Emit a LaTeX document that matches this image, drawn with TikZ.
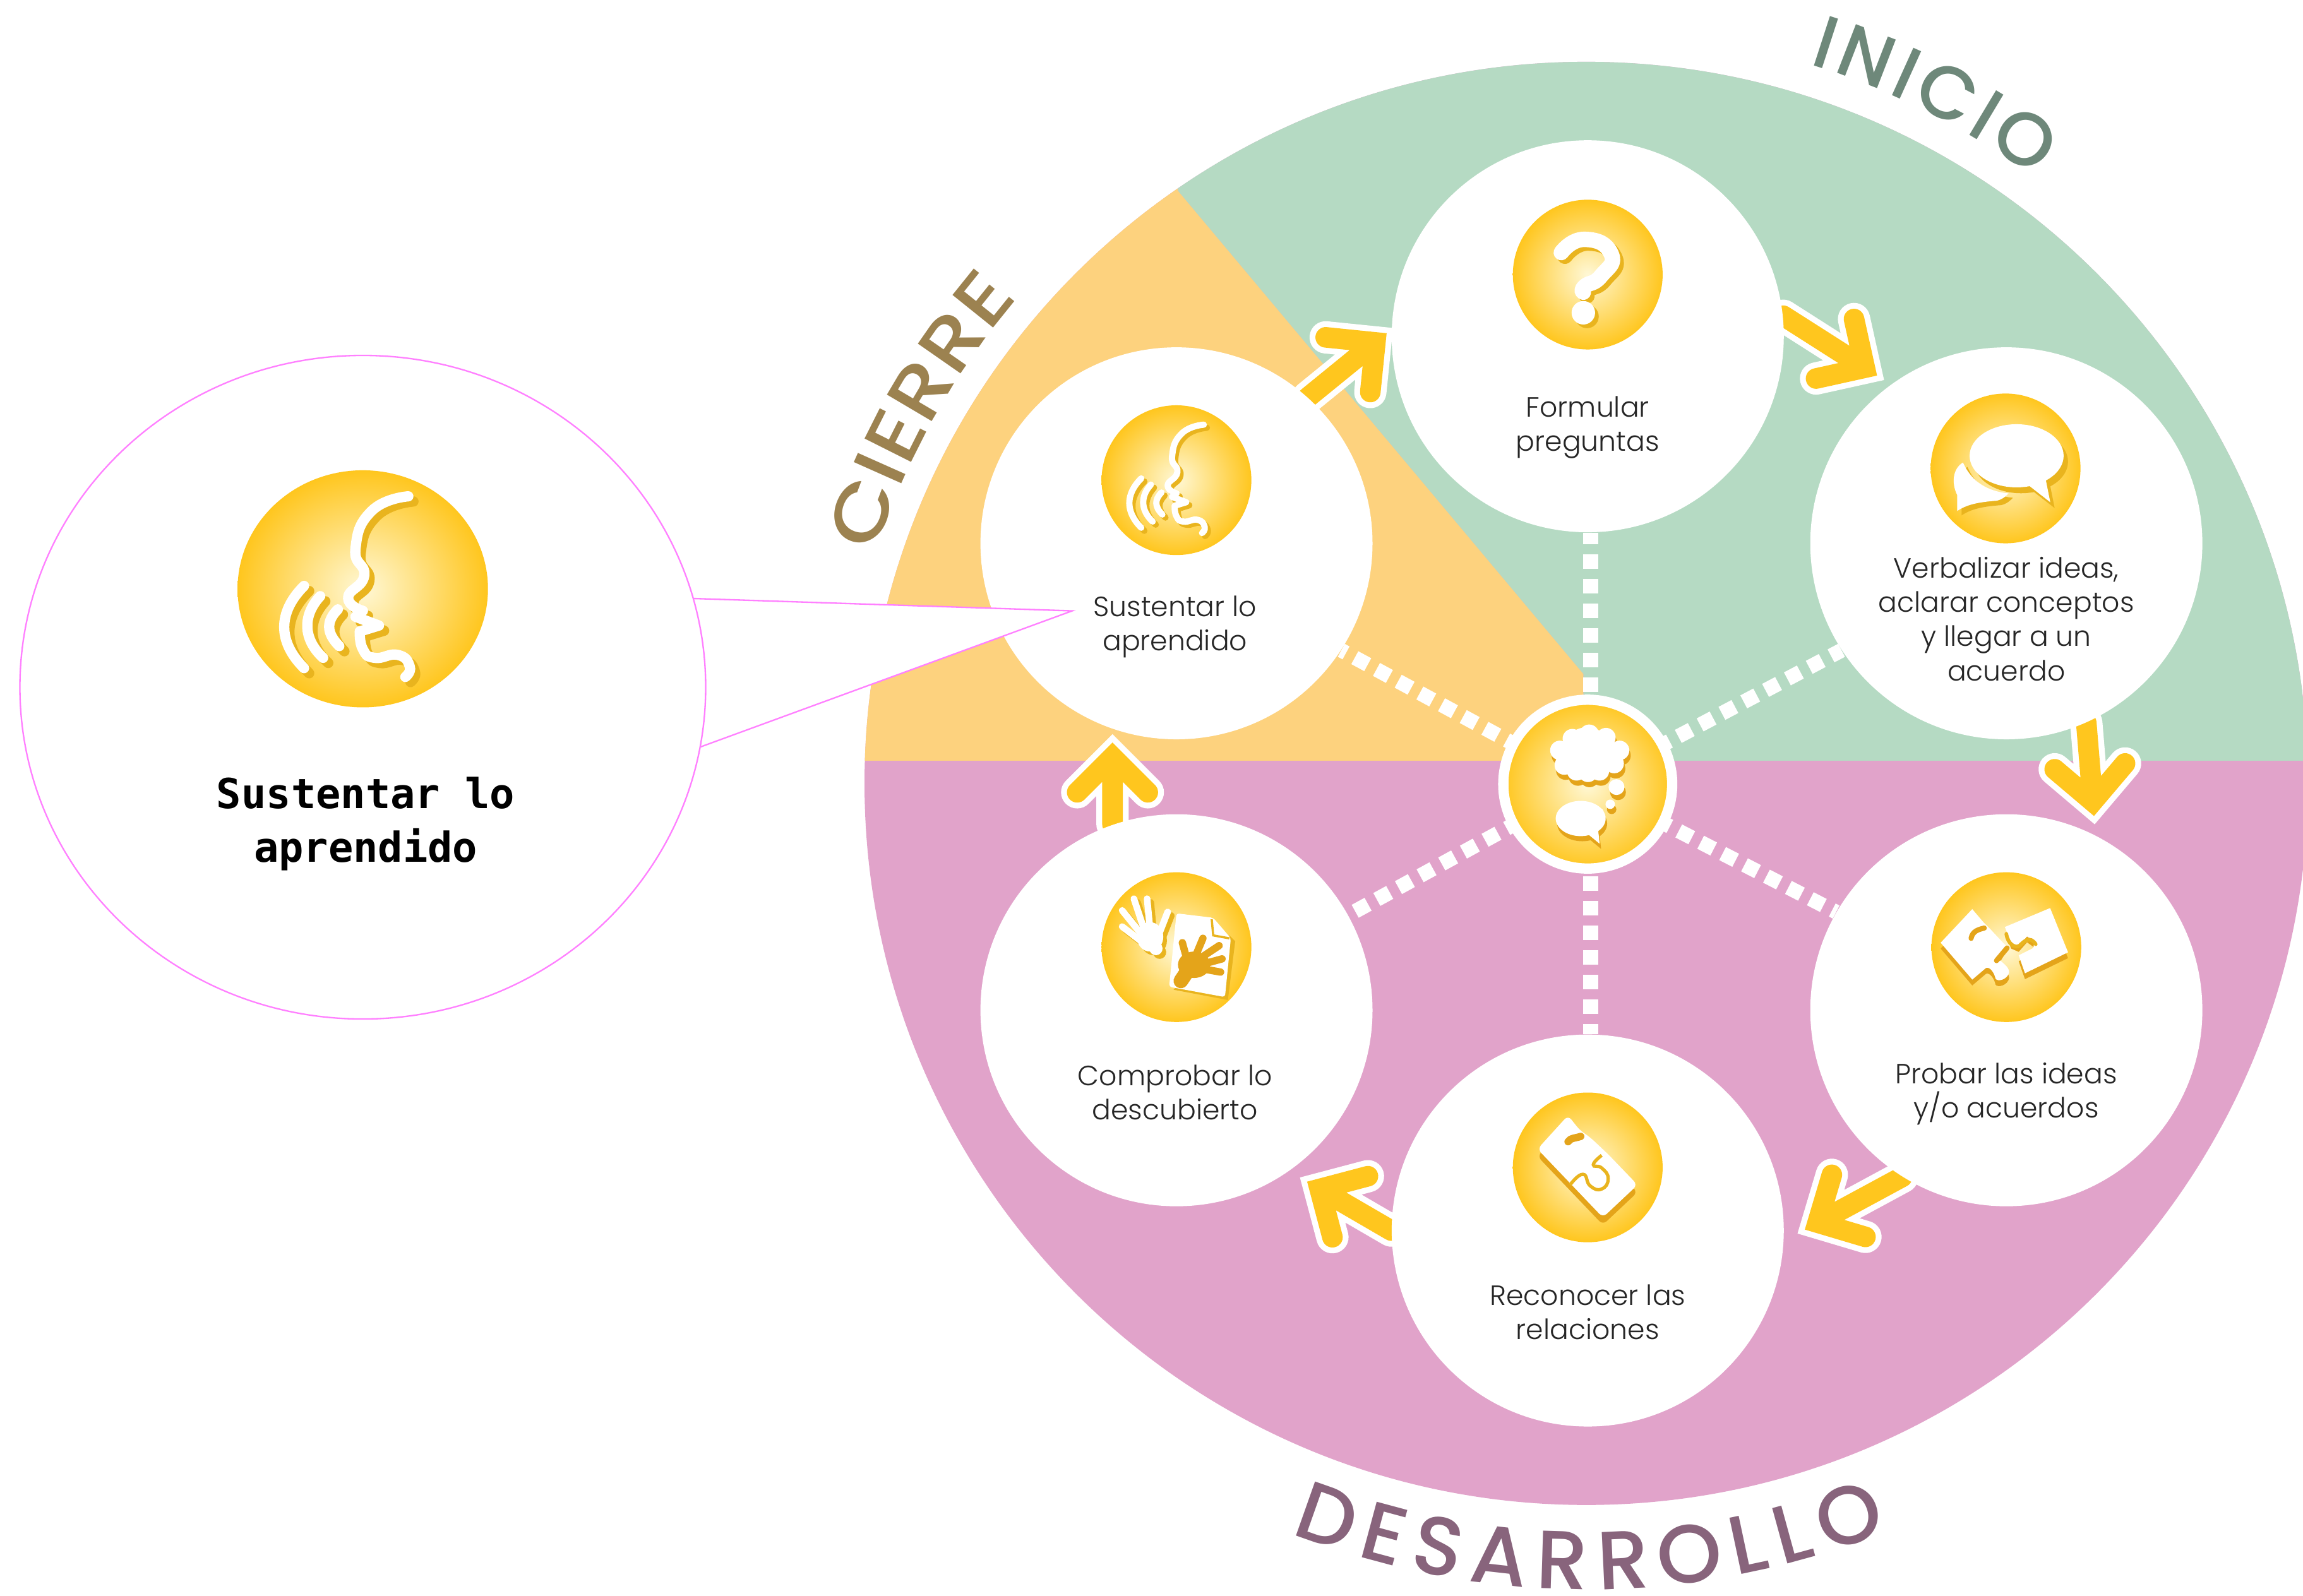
\documentclass[tikz,border=0pt]{standalone}
\usepackage{fontspec}
\setmainfont{Poppins Light}
\newfontfamily\titulos{Poppins Medium}
\newfontfamily\tituloancho{Poppins Medium}[FakeStretch=1.18]
\newfontfamily\pixelada{DejaVu Sans Mono}[BoldFont={* Bold}]
\usepackage{xcolor}
\usepackage{tikz}
\usetikzlibrary{shapes, shapes.geometric, arrows.meta, positioning, calc, decorations.text}

\pgfdeclarelayer{fondo}
\pgfdeclarelayer{lineas}
\pgfdeclarelayer{cuna}
\pgfdeclarelayer{globo}
\pgfsetlayers{fondo,lineas,main,cuna,globo}

\definecolor{verde}{HTML}{B5DAC3}
\definecolor{naranja}{HTML}{FDD27E}
\definecolor{rosa}{HTML}{E1A3CA}
\definecolor{amarillo}{HTML}{FFC61E}
\definecolor{centroclaro}{HTML}{FFF8D6}
\definecolor{sombra}{HTML}{E9B41E}
\definecolor{oro}{HTML}{E4A41A}
\definecolor{magenta}{HTML}{FF80FF}
\definecolor{tinta}{HTML}{262626}
\definecolor{tituloverde}{HTML}{6E887A}
\definecolor{titulocafe}{HTML}{9C8250}
\definecolor{titulorosa}{HTML}{88647C}

\tikzset{
  pics/cara/.style={code={
    \foreach \col/\s in {sombra/3.5, white/0} {
      \begin{scope}[shift={(\s,\s)}, color=\col, line width=#1, line cap=round, line join=round]
        \draw plot[smooth, tension=.9] coordinates {(31,-63) (6,-53) (-5,-27) (1,-9) (-10,6) (0,15)};
        \draw (0,15) -- (-5,19) -- (11,25) -- (-2,29);
        \draw plot[smooth, tension=.9] coordinates {(-2,29) (0,41) (8,47) (24,45) (32,53) (29,60)};
        \draw (-40,-2) .. controls (-58,16) and (-58,36) .. (-40,54);
        \draw (-29,5) .. controls (-41,18) and (-41,34) .. (-27,47);
        \draw (-17,14) .. controls (-25,22) and (-25,30) .. (-16,39);
      \end{scope}
    }
  }},
  pics/pregunta/.style={code={
    \foreach \col/\s in {sombra/2.5, white/0} {
      \begin{scope}[shift={(\s,\s)}, color=\col, line width=2.1mm, line cap=round, line join=round]
        \draw plot[smooth, tension=1] coordinates {(-18,-15) (-2,-24) (16,-14) (9,1) (-2,8) (-3,12)};
        \fill (-3,26) circle [radius=8];
      \end{scope}
    }
  }},
  pics/dialogo/.style={code={
    \foreach \col/\s in {sombra/3, white/0} {
      \begin{scope}[shift={(\s,\s)}, color=\col]
        \fill (-29,-4) .. controls (-36,0) and (-37,10) .. (-33,18) -- (-33,29)
          .. controls (-27,25) and (-20,23) .. (-6,22) .. controls (-2,21) and (0,19) .. (2,17)
          .. controls (-8,16) and (-22,12) .. (-29,-4) -- cycle;
      \end{scope}
    }
    \foreach \col/\s/\t in {sombra/3/4, white/0/0} {
      \begin{scope}[shift={(\s,\t)}, color=\col]
        \fill (7.5,-8.6) ellipse [x radius=32, y radius=21.5];
        \fill (27,6) -- (30.4,23) -- (15,11) -- cycle;
      \end{scope}
    }
  }},
  pics/pensar/.style={code={
    \foreach \col/\s/\t in {oro/1/3.5, white/0/0} {
      \begin{scope}[shift={(\s,\t)}, color=\col]
        \fill (-.5,-21.7) circle [radius=17];
        \foreach \x/\y in {-10.5/-31, 1/-34, 12.4/-31.7, 21.7/-23, -19/-23, -16/-13, -7.6/-9, .2/-8, 8/-9, 18/-14}
          \fill (\x,\y) circle [radius=6.6];
        \fill (19.6,2) circle [radius=5.4];
        \fill (15.3,13.7) circle [radius=3.2];
        \fill (8.8,18.4) circle [radius=1.9];
        \fill (-4.8,23.4) ellipse [x radius=17, y radius=12];
        \fill (-.5,33.5) -- (8.1,40.6) -- (6.7,27.7) -- cycle;
      \end{scope}
    }
  }},
  pics/piezas/.style={code={
    \foreach \col/\t in {oro/4, white/0} {
      \begin{scope}[shift={(0,\t)}, color=\col]
        \fill (-44.7,-3) -- (-23.2,-25.9) -- (-15.3,-16.6) -- (-10.3,-11.6) -- (-.2,-.8) -- (-5.3,7.8)
          .. controls (-4,10) and (2,13) .. (1.9,17.1) .. controls (1,22) and (-6,24) .. (-7.4,21.4)
          .. controls (-8,18) and (-11,13) .. (-13.9,14.2) -- (-23.2,22.1) -- cycle;
        \fill (-1,-13.7) -- (29.8,-26.6) -- (42,3.5) -- (12.7,17.8) -- (8.4,5.6) -- (18.4,.6) -- (19.1,-3.7)
          -- (14.1,-7.3) -- (8.4,-.8) -- (3.3,-3) -- cycle;
      \end{scope}
    }
    \begin{scope}[oro, line cap=round, line width=.07cm]
      \draw (-24,-6) .. controls (-23,-11) and (-19,-12) .. (-15,-13);
      \draw (-6.7,9.2) -- (.5,.6);
      \draw[sombra, line width=.05cm] (0,-9) .. controls (1,-2) and (6,1) .. (9,-1) .. controls (12,-4) and (16,-8) .. (20,-2);
    \end{scope}
  }},
  pics/pieza/.style={code={
    \foreach \col/\t in {oro/5, white/0} {
      \begin{scope}[shift={(0,\t)}, color=\col]
        \fill[rounded corners=2pt] (-34.2,-12.5) -- (-13.4,-35.4) -- (-5.5,-25.4) -- (1.7,-20.4) -- (13.9,-8.9)
          -- (33.9,11.9) -- (10.3,34.1) -- cycle;
      \end{scope}
    }
    \draw[oro, line width=.1cm, line cap=round] (-13.4,-17.5) .. controls (-12,-20) and (-8,-20) .. (-4.8,-21.1);
    \draw[sombra, line width=.045cm] plot[smooth, tension=.9] coordinates
      {(-12,11.9) (-3.3,4.7) (1.7,12.6) (9.5,14.7) (13.9,7.6) (9.5,.4) (3.8,-1.8) (9.5,-8.2)};
  }},
  pics/manos/.style={code={
    \foreach \col/\s in {sombra/2.5, white/0} {
      \begin{scope}[shift={(\s,\s)}, color=\col, line width=.09cm, line cap=round]
        \fill (-18,-7) ellipse [x radius=9, y radius=10];
        \draw (-13,-6) -- (-6,-24);
        \draw (-18,-12) -- (-20,-33);
        \draw (-22,-12) -- (-29,-33);
        \draw (-24,-9) -- (-37,-25);
        \draw (-24,-4) -- (-37,-14);
        \draw[line width=.18cm] (-16,-3) -- (-14,1);
      \end{scope}
    }
    \fill[sombra] (-2,29) -- (35,36) -- (40,-4) -- (36,-8) -- cycle;
    \fill[white, rounded corners=1pt] (0,-23) -- (25,-20) -- (37,-6) -- (33,34) -- (-5,27) -- cycle;
    \draw[sombra, line width=.03cm] (24,-19) -- (25,-8) -- (36,-6);
    \begin{scope}[oro, line width=.1cm, line cap=round]
      \fill (12,12) ellipse [x radius=11, y radius=9];
      \draw (7,8) -- (4,-3);
      \draw (13,6) -- (18,-6);
      \draw (17,7) -- (29,-1);
      \draw (20,11) -- (31,8);
      \draw (19,15) -- (30,17);
      \draw[line width=.2cm] (7,17) -- (3,23);
    \end{scope}
  }},
  curva/.style n args={3}{decorate, decoration={text along path,
    text={|#2\color{#1}|#3}, text align={fit to path}}}
}

\begin{document}
\begin{tikzpicture}[
    x=.02cm, y=-.02cm,
    rueda/.style={circle, fill=rosa, minimum size=19.66cm, inner sep=0},
    etapa/.style={circle, fill=white, minimum size=5.34cm, inner sep=0},
    icono/.style={circle, inner sep=0, minimum size=2.04cm, inner color=centroclaro, outer color=amarillo},
    centro/.style={circle, inner sep=0, minimum size=2.3cm, draw=white, line width=.14cm, inner color=centroclaro, outer color=amarillo},
    lupa/.style={ellipse, draw=magenta, line width=.02cm, fill=white, minimum width=9.34cm, minimum height=9.04cm, inner sep=0},
    iconolupa/.style={ellipse, inner sep=0, minimum width=3.41cm, minimum height=3.23cm, inner color=centroclaro, outer color=amarillo},
    rotulo/.style={align=center, inner sep=0, text=tinta, font=\fontsize{10.8}{13.3}\selectfont},
    rotulolupa/.style={align=center, inner sep=0, font=\pixelada\bfseries\fontsize{16}{20.9}\selectfont},
    puntos/.style={draw=white, line width=.2cm, dash pattern=on .2cm off .136cm}
  ]
  \useasboundingbox (0,0) rectangle (1568,1086.5);

  % fondo
  \begin{pgfonlayer}{fondo}
    \node[rueda] (rueda) at (1080,533.5) {};
    \begin{scope}
      \clip (rueda.center) circle [radius=9.83cm];
      \fill[verde] (802,130) -- (1078,459) -- (1078,518) -- (1600,518) -- (1600,0) -- (802,0) -- cycle;
      \fill[naranja] (802,130) -- (1078,459) -- (1078,518) -- (560,518) -- (560,0) -- (802,0) -- cycle;
    \end{scope}
    \path[curva={tituloverde}{\titulos\fontsize{29}{29}\selectfont}{INICIO}] ([shift={(72.8:10.26cm)}]rueda.center) arc [start angle=72.8, end angle=53.5, radius=10.26cm];
    \path[curva={titulocafe}{\tituloancho\fontsize{29}{29}\selectfont}{CIERRE}] ([shift={(162.1:10.18cm)}]rueda.center) arc [start angle=162.1, end angle=140, radius=10.18cm];
    \path[curva={titulorosa}{\titulos\fontsize{32}{32}\selectfont}{DESARROLLO}] ([shift={(-111.5:10.98cm)}]rueda.center) arc [start angle=-111.5, end angle=-68, radius=10.98cm];
  \end{pgfonlayer}

  % circulos
  \node[etapa] (formular) at (1081,229) {};
  \node[etapa] (verbalizar) at (1366,370) {};
  \node[etapa] (probar) at (1366,688) {};
  \node[etapa] (reconocer) at (1081,838) {};
  \node[etapa] (comprobar) at (801,688) {};
  \node[etapa] (sustentar) at (801,370) {};
  \node[centro] (idea) at (1081,534) {};
  \pic at (idea) {pensar};

  \begin{pgfonlayer}{lineas}
    % lineas punteadas
    \foreach \fin/\b in {sustentar/-33.9, verbalizar/-147.3, probar/150.9, comprobar/29.6}
      \path[puntos, dash phase=.286cm] (idea.center) -- (\fin.\b);
    \path[puntos, dash phase=.09cm] ([xshift=.04cm]idea.center) -- ([xshift=.04cm]formular.south);
    \path[puntos, dash phase=.09cm] ([xshift=.04cm]idea.center) -- ([xshift=.04cm]reconocer.north);

    % flechas
    \foreach \ini/\a/\fin/\b/\d in {sustentar/48/formular/178.7/14, formular/6/verbalizar/126.3/21,
        verbalizar/-66/probar/63.2/23, probar/-122/reconocer/-3/26,
        reconocer/180/comprobar/-55.8/24, comprobar/109.7/sustentar/-109.1/19}
      \foreach \col/\w in {white/.44cm, amarillo/.28cm} {
        \coordinate (punta) at ($(\fin.\b)!\d*.02cm!(\ini.\a)$);
        \draw[color=\col, line width=\w, line cap=round, line join=miter]
          (\ini.\a) -- (punta)
          ($(punta)!.68cm!45:(\ini.\a)$) -- (punta) -- ($(punta)!.68cm!-45:(\ini.\a)$);
      };
  \end{pgfonlayer}

  \node[icono] (iconoform) at (1081,187) {};
  \pic at (iconoform) {pregunta};
  \node[icono] (iconoverb) at (1365.5,319) {};
  \pic at (iconoverb) {dialogo};
  \node[icono] (iconoprob) at (1366,645) {};
  \pic at (iconoprob) {piezas};
  \node[icono] (iconorec) at (1081,795) {};
  \pic at (iconorec) {pieza};
  \node[icono] (iconocomp) at (801,645) {};
  \pic at (iconocomp) {manos};
  \node[icono] (iconosust) at (801,327) {};
  \pic[scale=.6] at (iconosust) {cara=.085cm};

  \node[rotulo] (txtform) at (1081,291) {Formular\\preguntas};
  \node[rotulo] (txtverb) at (1366,421.5) {Verbalizar ideas,\\aclarar conceptos\\y llegar a un\\acuerdo};
  \node[rotulo] (txtprob) at (1366,745) {Probar las ideas\\y/o acuerdos};
  \node[rotulo] (txtrec) at (1081,893.5) {Reconocer las\\relaciones};
  \node[rotulo] (txtcomp) at (800,744) {Comprobar lo\\descubierto};
  \node[rotulo] (txtsust) at (800,427) {Sustentar lo\\aprendido};

  % globo
  \begin{pgfonlayer}{globo}
    \node[lupa] (lupa) at (247,468) {};
    \node[iconolupa] (iconolupa) at (247,401) {};
    \pic at (iconolupa) {cara=.14cm};
    \node[rotulolupa] (txtlupa) at (249,561) {Sustentar lo\\aprendido};
  \end{pgfonlayer}
  \begin{pgfonlayer}{cuna}
    \coordinate (puntaglobo) at (730,416);
    \draw[magenta, line width=.02cm, fill=white] (lupa.15.7) -- (puntaglobo) -- (lupa.-10.4);
  \end{pgfonlayer}
\end{tikzpicture}
\end{document}
